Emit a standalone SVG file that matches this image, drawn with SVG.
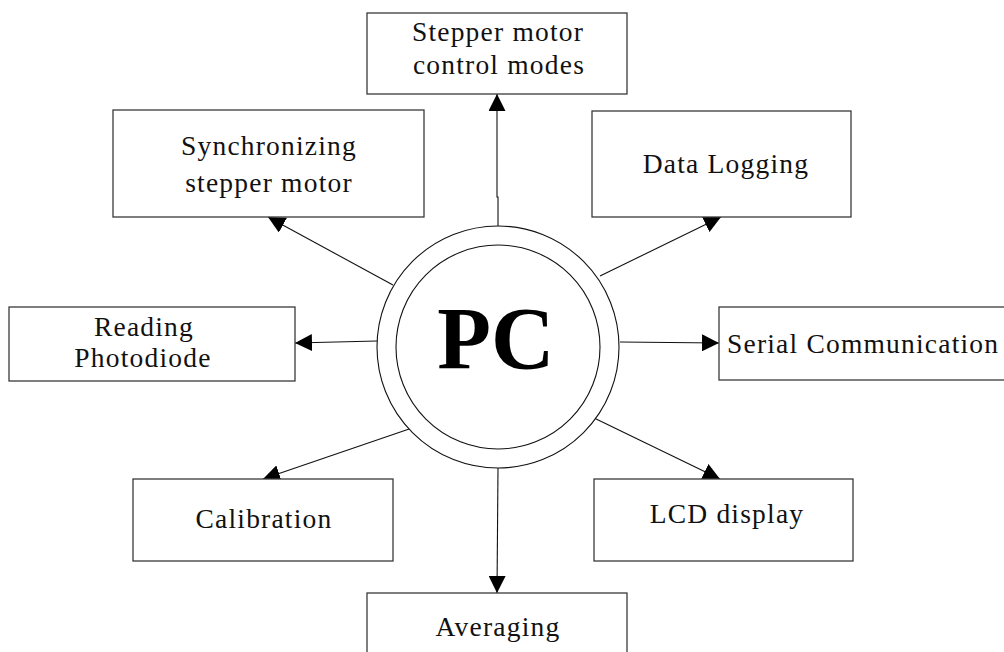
<svg xmlns="http://www.w3.org/2000/svg" width="1004" height="652" viewBox="0 0 1004 652">
<style>
.box{fill:#fff;stroke:#3a3a3a;stroke-width:1.3}
.lbl{font-family:"Liberation Serif","Times New Roman",serif;font-size:27.5px;letter-spacing:1.2px;fill:#111;text-anchor:middle}
.con{fill:none;stroke:#111;stroke-width:1.1}
.ring{fill:#fff;stroke:#111;stroke-width:1.1}
</style>
<defs>
<marker id="ah" markerUnits="userSpaceOnUse" markerWidth="17" markerHeight="17" refX="17" refY="8.5" orient="auto">
<path d="M0,0 L17,8.5 L0,17 z" fill="#000"/>
</marker>
</defs>
<rect width="1004" height="652" fill="#fff"/>
<g id="connectors">
<path class="con" d="M498,227 L498,197 L497,197 L497,94" marker-end="url(#ah)"/>
<path class="con" d="M393,285 L268,217" marker-end="url(#ah)"/>
<path class="con" d="M600,276 L721,217" marker-end="url(#ah)"/>
<path class="con" d="M377,341 L295,343" marker-end="url(#ah)"/>
<path class="con" d="M620,342 L719,343" marker-end="url(#ah)"/>
<path class="con" d="M415,427 L263,479" marker-end="url(#ah)"/>
<path class="con" d="M592,417 L720,479" marker-end="url(#ah)"/>
<path class="con" d="M498,468 L497,593" marker-end="url(#ah)"/>
</g>
<g id="pc">
<circle class="ring" cx="498" cy="347" r="121"/>
<circle class="ring" cx="498" cy="347" r="102"/>
<text x="496" y="368" font-family="'Liberation Serif','Times New Roman',serif" font-size="88" font-weight="bold" text-anchor="middle" fill="#000">PC</text>
</g>
<g id="stepper-modes">
<rect class="box" x="367" y="13" width="260" height="81"/>
<text class="lbl" x="498" y="41">Stepper motor</text>
<text class="lbl" x="499" y="74">control modes</text>
</g>
<g id="synchronizing">
<rect class="box" x="113" y="110" width="311" height="107"/>
<text class="lbl" x="269" y="155">Synchronizing</text>
<text class="lbl" x="269" y="192">stepper motor</text>
</g>
<g id="data-logging">
<rect class="box" x="592" y="111" width="259" height="106"/>
<text class="lbl" x="726" y="173">Data Logging</text>
</g>
<g id="reading">
<rect class="box" x="9" y="307" width="286" height="74"/>
<text class="lbl" x="144" y="336">Reading</text>
<text class="lbl" x="143" y="367">Photodiode</text>
</g>
<g id="serial">
<rect class="box" x="719" y="307" width="300" height="73"/>
<text class="lbl" x="727" y="353" style="text-anchor:start">Serial Communication</text>
</g>
<g id="calibration">
<rect class="box" x="133" y="479" width="260" height="82"/>
<text class="lbl" x="264" y="528">Calibration</text>
</g>
<g id="lcd">
<rect class="box" x="594" y="479" width="259" height="82"/>
<text class="lbl" x="727" y="523">LCD display</text>
</g>
<g id="averaging">
<rect class="box" x="367" y="593" width="260" height="90"/>
<text class="lbl" x="498" y="636">Averaging</text>
</g>
</svg>
